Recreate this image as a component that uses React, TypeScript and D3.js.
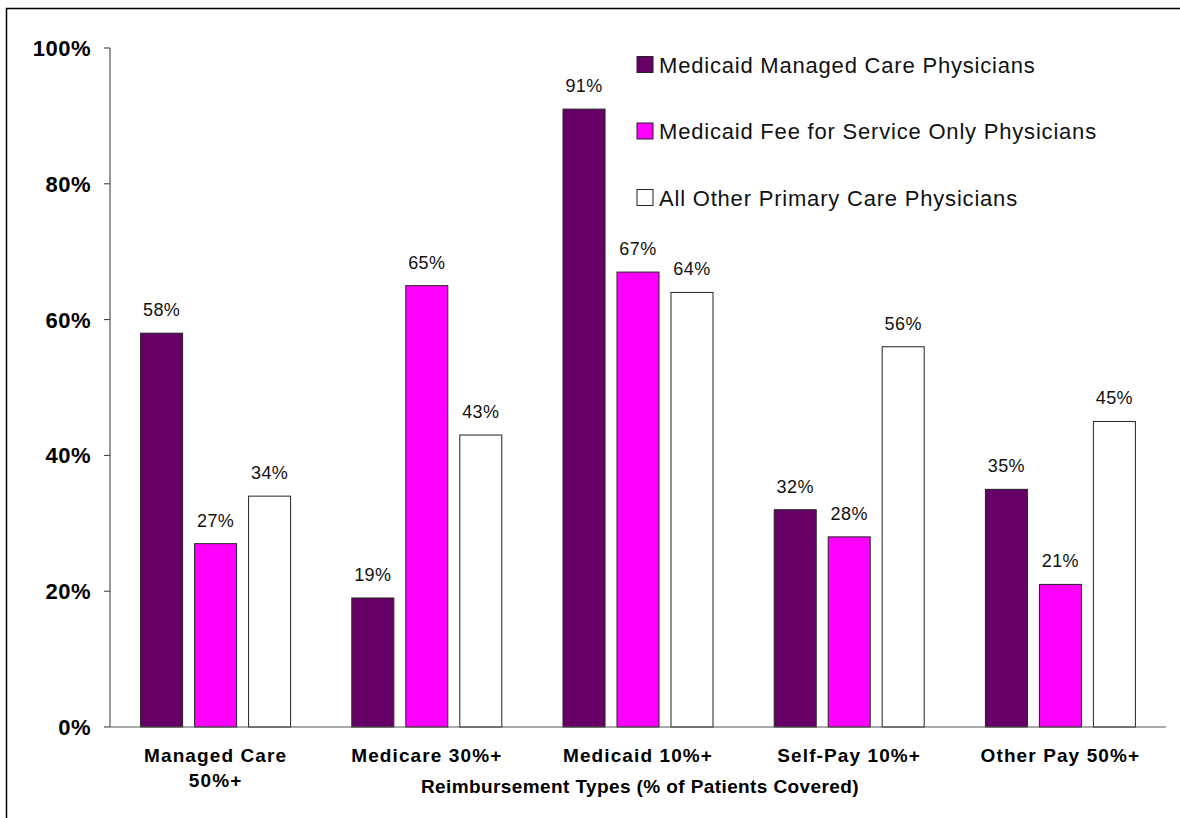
import React from "react";
import * as d3 from "d3";

const categories: string[][] = [
  ["Managed Care", "50%+"],
  ["Medicare 30%+"],
  ["Medicaid 10%+"],
  ["Self-Pay 10%+"],
  ["Other Pay 50%+"],
];
const seriesNames = [
  "Medicaid Managed Care Physicians",
  "Medicaid Fee for Service Only Physicians",
  "All Other Primary Care Physicians",
];
const seriesColors = ["#660066", "#FF00FF", "#FFFFFF"];
const managedCare = [58, 19, 91, 32, 35];
const feeForService = [27, 65, 67, 28, 21];
const allOther = [34, 43, 64, 56, 45];
const yTicks = [0, 20, 40, 60, 80, 100];
const xTitle = "Reimbursement Types (% of Patients Covered)";

const W = 1180;
const H = 818;
const left = 110;
const right = 1166;
const top = 48;
const bottom = 727;
const FONT = "'Liberation Sans', Arial, sans-serif";

export default function App() {
  const series = [managedCare, feeForService, allOther];
  const catKeys = categories.map((c) => c.join(" "));
  const x0 = d3.scaleBand<string>().domain(catKeys).range([left, right]).paddingInner(0).paddingOuter(0);
  const x1 = d3
    .scaleBand<number>()
    .domain([0, 1, 2])
    .range([0, x0.bandwidth()])
    .paddingInner(0.222)
    .paddingOuter(0.567);
  const y = d3.scaleLinear().domain([0, 100]).range([bottom, top]);

  return (
    <svg
      width={W}
      height={H}
      style={{ position: "absolute", left: 0, top: 0, background: "#fff" }}
    >
      <rect x={6.5} y={8.5} width={1300} height={1000} fill="#fff" stroke="#000" strokeWidth={1.5} />

      {/* y axis */}
      <line x1={left} x2={left} y1={y(100)} y2={y(0)} stroke="#333" strokeWidth={1} />
      {yTicks.map((t) => (
        <g key={t}>
          <line x1={left - 6} x2={left} y1={y(t)} y2={y(t)} stroke="#333" strokeWidth={1} />
          <text
            x={91}
            y={y(t)}
            dy="0.36em"
            textAnchor="end"
            fontFamily={FONT}
            fontWeight="bold"
            fontSize={22}
            letterSpacing={0.5}
            fill="#000"
          >
            {t}%
          </text>
        </g>
      ))}

      {/* bars */}
      {catKeys.map((k, ci) => (
        <g key={k} transform={`translate(${x0(k)},0)`}>
          {series.map((s, si) => {
            const v = s[ci];
            const bx = x1(si)!;
            const bw = x1.bandwidth();
            return (
              <g key={si}>
                <rect
                  x={bx}
                  y={y(v)}
                  width={bw}
                  height={y(0) - y(v)}
                  fill={seriesColors[si]}
                  stroke="#222"
                  strokeWidth={1}
                />
                <text
                  x={bx + bw / 2}
                  y={y(v) - 17}
                  textAnchor="middle"
                  fontFamily={FONT}
                  fontSize={18}
                  letterSpacing={0.4}
                  fill="#111"
                >
                  {v}%
                </text>
              </g>
            );
          })}
        </g>
      ))}

      {/* x axis line */}
      <line x1={left} x2={right} y1={y(0)} y2={y(0)} stroke="#555" strokeWidth={1} />

      {/* category labels */}
      {categories.map((lines, ci) => (
        <text
          key={ci}
          textAnchor="middle"
          fontFamily={FONT}
          fontWeight="bold"
          fontSize={19}
          letterSpacing={1.1}
          fill="#000"
        >
          {lines.map((ln, li) => (
            <tspan key={li} x={x0(catKeys[ci])! + x0.bandwidth() / 2} y={762 + li * 25}>
              {ln}
            </tspan>
          ))}
        </text>
      ))}
      <text
        x={(left + right) / 2 + 2}
        y={793}
        textAnchor="middle"
        fontFamily={FONT}
        fontWeight="bold"
        fontSize={19}
        letterSpacing={0.4}
        fill="#000"
      >
        {xTitle}
      </text>

      {/* legend */}
      {seriesNames.map((n, i) => (
        <g key={n} transform={`translate(637,${56.5 + i * 66.5})`}>
          <rect x={0} y={0} width={16} height={16} fill={seriesColors[i]} stroke="#222" strokeWidth={1} />
          <text x={22} y={16} fontFamily={FONT} fontSize={22} letterSpacing={0.8} fill="#111">
            {n}
          </text>
        </g>
      ))}
    </svg>
  );
}
